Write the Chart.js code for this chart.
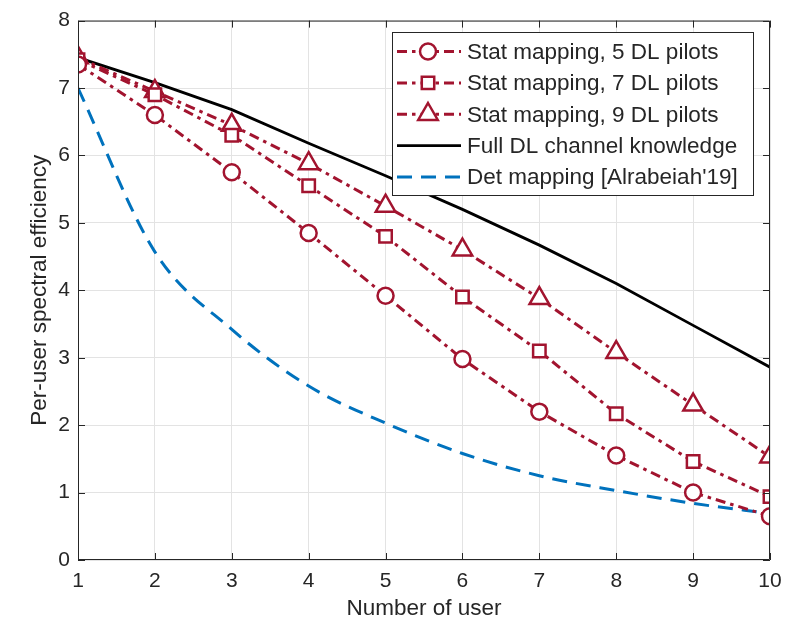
<!DOCTYPE html>
<html>
<head>
<meta charset="utf-8">
<script src="https://cdn.jsdelivr.net/npm/chart.js@4.4.1/dist/chart.umd.min.js"></script>
<style>
html,body{margin:0;padding:0;background:#fff;}
canvas{display:block;}
</style>
</head>
<body>
<canvas id="c" width="795" height="626"></canvas>
<script>
const users = [1,2,3,4,5,6,7,8,9,10];
const stat5 = [7.35,6.60,5.75,4.85,3.92,2.98,2.20,1.55,1.00,0.65];
const stat7 = [7.42,6.90,6.30,5.55,4.80,3.90,3.10,2.17,1.46,0.94];
const stat9 = [7.45,6.95,6.45,5.88,5.25,4.60,3.88,3.08,2.30,1.53];
const fullDL = [7.45,7.08,6.68,6.18,5.70,5.20,4.67,4.10,3.48,2.86];
const detMap = [7.00,4.57,3.42,2.58,2.03,1.58,1.25,1.03,0.84,0.69];
const xTicks = [1,2,3,4,5,6,7,8,9,10];
const yTicks = [0,1,2,3,4,5,6,7,8];
const labels = ["Stat mapping, 5 DL pilots","Stat mapping, 7 DL pilots","Stat mapping, 9 DL pilots","Full DL channel knowledge","Det mapping [Alrabeiah'19]"];

const RED = '#A2142F', BLUE = '#0072BD', BLACK = '#000000', AX = '#262626';
const FONT = '"Liberation Sans", Arial, sans-serif';
const toXY = arr => users.map((u,i)=>({x:u,y:arr[i]}));
const dashDot = [10,5,3.5,5];

function redSet(label, arr, style, r){
  return {label, data: toXY(arr), borderColor: RED, borderWidth: 3, borderDash: dashDot,
    pointStyle: style, pointRadius: r, pointBorderWidth: 2.5, pointBackgroundColor: '#fff',
    pointBorderColor: RED, fill:false, tension:0, order: 1};
}
const datasets = [
  redSet(labels[0], stat5, 'circle', 8),
  redSet(labels[1], stat7, 'rect', 8.8),
  redSet(labels[2], stat9, 'triangle', 11.3),
  {label: labels[3], data: toXY(fullDL), borderColor: BLACK, borderWidth: 2.8, pointRadius: 0, fill:false, tension:0, order: 2},
  {label: labels[4], data: toXY(detMap), borderColor: BLUE, borderWidth: 3, borderDash:[15,9], pointRadius: 0, fill:false, tension:0.4, cubicInterpolationMode:'monotone', order: 3}
];

const framePlugin = {
  id:'frame',
  afterDatasetsDraw(chart){
    const {ctx, chartArea:a, scales:{x,y}} = chart;
    ctx.save();
    ctx.strokeStyle = AX; ctx.lineWidth = 1;
    ctx.beginPath();
    ctx.rect(a.left+0.5, a.top+0.5, a.right-a.left-1, a.bottom-a.top-1);
    ctx.stroke();
    const tl = 7;
    ctx.beginPath();
    xTicks.forEach(v=>{
      const px = Math.round(x.getPixelForValue(v))+0.5;
      ctx.moveTo(px,a.bottom); ctx.lineTo(px,a.bottom-tl);
      ctx.moveTo(px,a.top); ctx.lineTo(px,a.top+tl);
    });
    yTicks.forEach(v=>{
      const py = Math.round(y.getPixelForValue(v))+0.5;
      ctx.moveTo(a.left,py); ctx.lineTo(a.left+tl,py);
      ctx.moveTo(a.right,py); ctx.lineTo(a.right-tl,py);
    });
    ctx.stroke();
    ctx.restore();
  }
};

const legendPlugin = {
  id:'mlegend',
  afterDraw(chart){
    const ctx = chart.ctx;
    const bx = 392, by = 32, bw = 361, bh = 163;
    ctx.save();
    ctx.fillStyle = '#fff';
    ctx.fillRect(bx,by,bw,bh);
    ctx.strokeStyle = AX; ctx.lineWidth = 1;
    ctx.strokeRect(bx+0.5,by+0.5,bw,bh);
    const rowH = 31.4, y0 = by + 19.5;
    chart.data.datasets.forEach((ds,i)=>{
      const yy = y0 + i*rowH;
      ctx.save();
      ctx.strokeStyle = ds.borderColor; ctx.lineWidth = ds.borderWidth;
      ctx.setLineDash(ds.borderDash || []);
      ctx.beginPath(); ctx.moveTo(397,yy); ctx.lineTo(461,yy); ctx.stroke();
      ctx.restore();
      if (ds.pointRadius > 0){
        ctx.save();
        ctx.fillStyle = '#fff'; ctx.strokeStyle = RED; ctx.lineWidth = ds.pointBorderWidth;
        ctx.setLineDash([]);
        ctx.beginPath();
        const r = ds.pointRadius;
        if (ds.pointStyle==='circle'){ ctx.arc(428,yy,r,0,Math.PI*2); }
        else if (ds.pointStyle==='rect'){ const s=r*Math.SQRT1_2; ctx.rect(428-s,yy-s,2*s,2*s); }
        else { ctx.moveTo(428, yy - r); ctx.lineTo(428 + r*0.866, yy + r*0.5); ctx.lineTo(428 - r*0.866, yy + r*0.5); ctx.closePath(); }
        ctx.fill(); ctx.stroke();
        ctx.restore();
      }
      ctx.fillStyle = AX;
      ctx.font = '22.5px ' + FONT;
      ctx.textBaseline = 'middle'; ctx.textAlign = 'left';
      ctx.fillText(ds.label, 467, yy+1);
    });
    ctx.restore();
  }
};

new Chart(document.getElementById('c'), {
  type:'line',
  data:{datasets},
  options:{
    responsive:false, animation:false, devicePixelRatio:1,
    layout:{padding:{left:0,right:25,top:17,bottom:0}},
    plugins:{legend:{display:false}, tooltip:{enabled:false}},
    elements:{line:{borderCapStyle:'butt'}},
    scales:{
      x:{type:'linear', min:1, max:10,
        afterBuildTicks: s => { s.ticks = xTicks.map(v=>({value:v})); },
        afterFit: s => { s.height = 66; },
        ticks:{color:AX, font:{family:FONT,size:21}, padding:9, maxRotation:0},
        grid:{color:'#e3e3e3', lineWidth:1, drawTicks:false},
        border:{display:false},
        title:{display:true, text:'Number of user', color:AX, font:{family:FONT,size:22.5}, padding:{top:0,bottom:4}}
      },
      y:{type:'linear', min:0, max:8,
        afterBuildTicks: s => { s.ticks = yTicks.map(v=>({value:v})); },
        afterFit: s => { s.width = 78; },
        ticks:{color:AX, font:{family:FONT,size:21}, padding:8},
        grid:{color:'#e3e3e3', lineWidth:1, drawTicks:false},
        border:{display:false},
        title:{display:true, text:'Per-user spectral efficiency', color:AX, font:{family:FONT,size:22.5}, padding:{top:26,bottom:0}}
      }
    }
  },
  plugins:[framePlugin, legendPlugin]
});
</script>
</body>
</html>
